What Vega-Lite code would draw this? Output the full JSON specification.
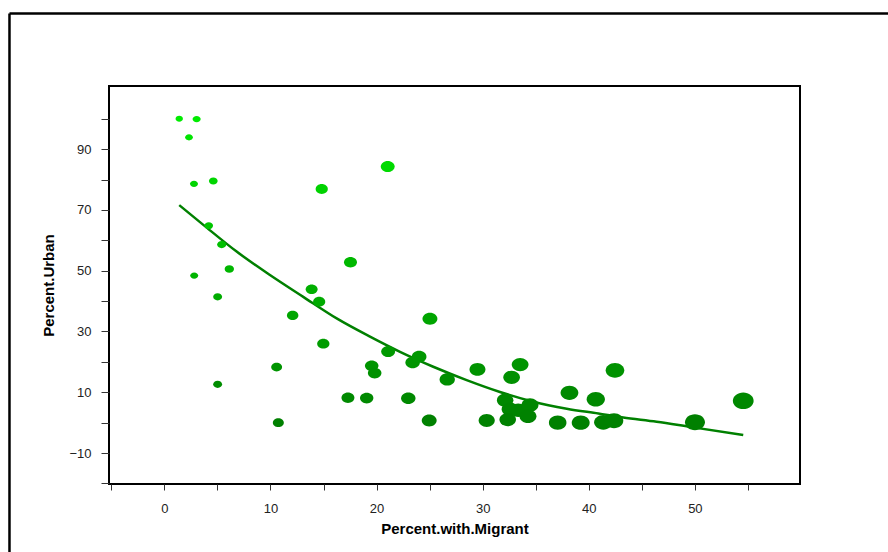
{
  "$schema": "https://vega.github.io/schema/vega-lite/v6.json",
  "width": 691,
  "height": 398,
  "autosize": {"type": "none"},
  "padding": {"left": 109, "top": 86, "right": 88, "bottom": 68},
  "background": "white",
  "config": {
    "view": {"stroke": "black", "strokeWidth": 2},
    "font": "Liberation Sans",
    "axis": {
      "tickColor": "#333", "domain": false, "grid": false, "labelOverlap": false,
      "labelFontSize": 13, "labelColor": "#222", "labelFont": "Liberation Sans",
      "titleFontSize": 15, "titleFontWeight": "bold", "titleColor": "black", "titleFont": "Liberation Sans"
    }
  },
  "title": {"text": "(1996)", "anchor": "start", "frame": "group", "fontStyle": "italic", "fontWeight": "normal", "fontSize": 18, "color": "black", "dx": -115, "offset": 78, "font": "Liberation Sans", "baseline": "alphabetic"},
  "datasets": {
    "countries": [
      {"migrant": 1.40, "urban": 100.0},
      {"migrant": 3.04, "urban": 99.9},
      {"migrant": 2.32, "urban": 93.9},
      {"migrant": 2.79, "urban": 78.6},
      {"migrant": 4.61, "urban": 79.5},
      {"migrant": 4.18, "urban": 64.8},
      {"migrant": 5.40, "urban": 58.6},
      {"migrant": 6.12, "urban": 50.6},
      {"migrant": 2.81, "urban": 48.4},
      {"migrant": 5.02, "urban": 41.4},
      {"migrant": 5.02, "urban": 12.6},
      {"migrant": 10.58, "urban": 18.3},
      {"migrant": 10.74, "urban": 0.0},
      {"migrant": 12.09, "urban": 35.3},
      {"migrant": 13.88, "urban": 43.9},
      {"migrant": 14.59, "urban": 39.8},
      {"migrant": 14.98, "urban": 26.0},
      {"migrant": 14.83, "urban": 76.9},
      {"migrant": 17.54, "urban": 52.8},
      {"migrant": 21.05, "urban": 84.3},
      {"migrant": 17.30, "urban": 8.2},
      {"migrant": 19.07, "urban": 8.1},
      {"migrant": 19.54, "urban": 18.7},
      {"migrant": 19.82, "urban": 16.3},
      {"migrant": 21.09, "urban": 23.4},
      {"migrant": 22.99, "urban": 8.0},
      {"migrant": 23.40, "urban": 19.8},
      {"migrant": 24.01, "urban": 21.7},
      {"migrant": 24.96, "urban": 0.7},
      {"migrant": 25.03, "urban": 34.2},
      {"migrant": 26.66, "urban": 14.2},
      {"migrant": 29.51, "urban": 17.5},
      {"migrant": 30.38, "urban": 0.7},
      {"migrant": 32.12, "urban": 7.4},
      {"migrant": 32.57, "urban": 4.4},
      {"migrant": 33.35, "urban": 4.1},
      {"migrant": 34.46, "urban": 5.8},
      {"migrant": 34.27, "urban": 2.1},
      {"migrant": 32.36, "urban": 1.0},
      {"migrant": 32.73, "urban": 14.9},
      {"migrant": 33.53, "urban": 19.1},
      {"migrant": 37.07, "urban": 0.0},
      {"migrant": 39.24, "urban": 0.0},
      {"migrant": 38.18, "urban": 9.8},
      {"migrant": 40.66, "urban": 7.7},
      {"migrant": 41.37, "urban": 0.1},
      {"migrant": 42.38, "urban": 0.6},
      {"migrant": 42.47, "urban": 17.2},
      {"migrant": 50.01, "urban": 0.1},
      {"migrant": 54.56, "urban": 7.2}
    ],
    "fit": [
      {"migrant": 1.40, "urban": 71.6},
      {"migrant": 3.67, "urban": 65.1},
      {"migrant": 6.81, "urban": 56.3},
      {"migrant": 9.95, "urban": 48.6},
      {"migrant": 13.09, "urban": 41.4},
      {"migrant": 16.24, "urban": 34.3},
      {"migrant": 19.38, "urban": 28.3},
      {"migrant": 22.21, "urban": 23.3},
      {"migrant": 25.34, "urban": 18.4},
      {"migrant": 28.49, "urban": 14.0},
      {"migrant": 31.63, "urban": 10.1},
      {"migrant": 34.77, "urban": 6.9},
      {"migrant": 37.92, "urban": 4.6},
      {"migrant": 40.90, "urban": 3.0},
      {"migrant": 43.25, "urban": 1.7},
      {"migrant": 46.40, "urban": 0.3},
      {"migrant": 49.54, "urban": -1.4},
      {"migrant": 54.56, "urban": -4.1}
    ],
    "frame": [{"left": -14.6, "right": 90, "top": 134.7, "bottom": -60}]
  },
  "layer": [
    {
      "data": {"name": "fit"},
      "mark": {"type": "line", "color": "#008000", "strokeWidth": 2.5, "interpolate": "monotone"},
      "encoding": {
        "x": {
          "field": "migrant", "type": "quantitative",
          "scale": {"domain": [-5.22, 59.91], "nice": false, "zero": false},
          "axis": {
            "title": "Percent.with.Migrant", "tickCount": 13,
            "values": [-5, 0, 5, 10, 15, 20, 25, 30, 35, 40, 45, 50, 55],
            "labelExpr": "datum.value % 10 === 0 ? datum.label : ''",
            "tickSize": 6, "labelPadding": 12, "titlePadding": 6
          }
        },
        "y": {
          "field": "urban", "type": "quantitative",
          "scale": {"domain": [-20.2, 110.8], "nice": false, "zero": false},
          "axis": {
            "title": "Percent.Urban", "tickCount": 13,
            "values": [-20, -10, 0, 10, 20, 30, 40, 50, 60, 70, 80, 90, 100],
            "labelExpr": "datum.value > 105 || (datum.value / 10) % 2 === 0 ? '' : datum.label",
            "tickSize": 8, "labelPadding": 10, "titlePadding": 12
          }
        }
      }
    },
    {
      "data": {"name": "countries"},
      "mark": {"type": "point", "filled": true, "opacity": 1, "strokeWidth": 0, "shape": "M-1,0A1,0.8,0,1,1,1,0A1,0.8,0,1,1,-1,0Z"},
      "encoding": {
        "x": {
          "field": "migrant", "type": "quantitative",
          "axis": {
            "title": "Percent.with.Migrant", "tickCount": 13,
            "values": [-5, 0, 5, 10, 15, 20, 25, 30, 35, 40, 45, 50, 55],
            "labelExpr": "datum.value % 10 === 0 ? datum.label : ''",
            "tickSize": 6, "labelPadding": 12, "titlePadding": 6
          }
        },
        "y": {
          "field": "urban", "type": "quantitative",
          "axis": {
            "title": "Percent.Urban", "tickCount": 13,
            "values": [-20, -10, 0, 10, 20, 30, 40, 50, 60, 70, 80, 90, 100],
            "labelExpr": "datum.value > 105 || (datum.value / 10) % 2 === 0 ? '' : datum.label",
            "tickSize": 8, "labelPadding": 10, "titlePadding": 12
          }
        },
        "size": {"field": "migrant", "type": "quantitative", "scale": {"domain": [0, 55], "range": [44, 435], "zero": false}, "legend": null},
        "color": {"field": "urban", "type": "quantitative", "scale": {"domain": [0, 100], "range": ["#008000", "#00eb00"], "interpolate": "rgb"}, "legend": null}
      }
    },
    {
      "data": {"name": "frame"},
      "mark": {"type": "rule", "color": "black", "strokeWidth": 2.5},
      "encoding": {
        "x": {
          "field": "left", "type": "quantitative",
          "axis": {
            "title": "Percent.with.Migrant", "tickCount": 13,
            "values": [-5, 0, 5, 10, 15, 20, 25, 30, 35, 40, 45, 50, 55],
            "labelExpr": "datum.value % 10 === 0 ? datum.label : ''",
            "tickSize": 6, "labelPadding": 12, "titlePadding": 6
          }
        },
        "y": {
          "field": "top", "type": "quantitative",
          "axis": {
            "title": "Percent.Urban", "tickCount": 13,
            "values": [-20, -10, 0, 10, 20, 30, 40, 50, 60, 70, 80, 90, 100],
            "labelExpr": "datum.value > 105 || (datum.value / 10) % 2 === 0 ? '' : datum.label",
            "tickSize": 8, "labelPadding": 10, "titlePadding": 12
          }
        },
        "y2": {"field": "bottom"}
      }
    },
    {
      "data": {"name": "frame"},
      "mark": {"type": "rule", "color": "black", "strokeWidth": 2.5},
      "encoding": {
        "x": {
          "field": "left", "type": "quantitative",
          "axis": {
            "title": "Percent.with.Migrant", "tickCount": 13,
            "values": [-5, 0, 5, 10, 15, 20, 25, 30, 35, 40, 45, 50, 55],
            "labelExpr": "datum.value % 10 === 0 ? datum.label : ''",
            "tickSize": 6, "labelPadding": 12, "titlePadding": 6
          }
        },
        "x2": {"field": "right"},
        "y": {
          "field": "top", "type": "quantitative",
          "axis": {
            "title": "Percent.Urban", "tickCount": 13,
            "values": [-20, -10, 0, 10, 20, 30, 40, 50, 60, 70, 80, 90, 100],
            "labelExpr": "datum.value > 105 || (datum.value / 10) % 2 === 0 ? '' : datum.label",
            "tickSize": 8, "labelPadding": 10, "titlePadding": 12
          }
        }
      }
    }
  ]
}
